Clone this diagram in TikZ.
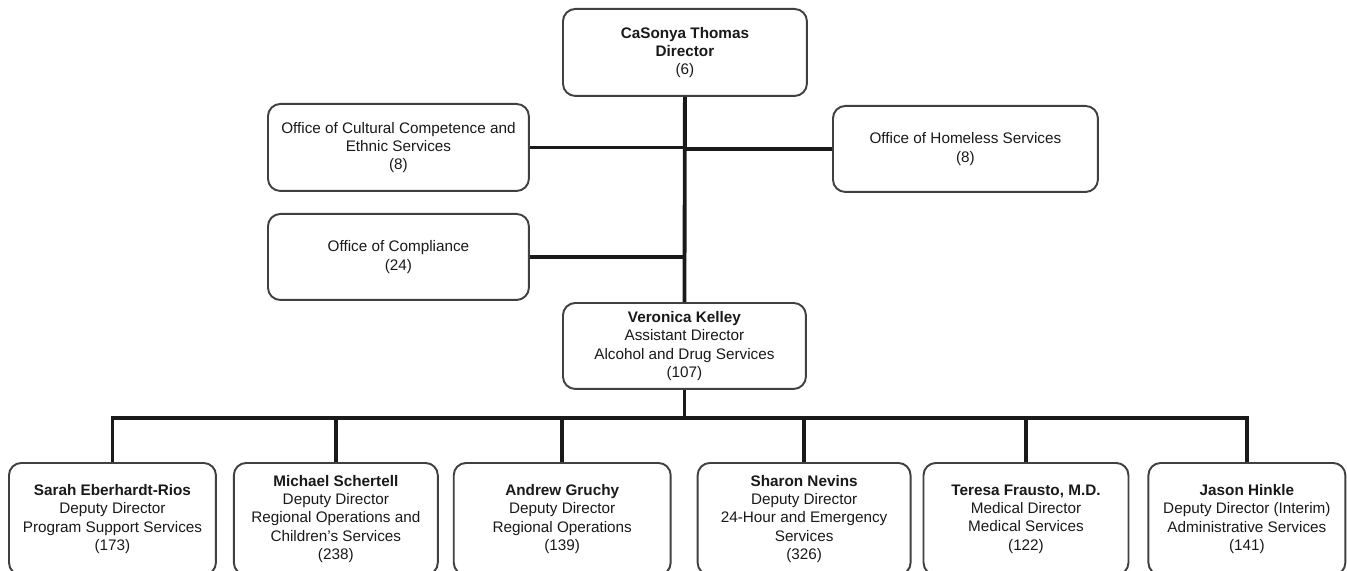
\documentclass[tikz,border=0pt]{standalone}
\usepackage{fontspec}
\setmainfont{Liberation Sans}
\usetikzlibrary{positioning,calc}
\definecolor{boxgrey}{RGB}{64,64,64}
\definecolor{linedark}{RGB}{26,26,26}

\begin{document}
\begin{tikzpicture}[
    x=0.02cm, y=-0.02cm,
    unit/.style={rectangle, draw=boxgrey, line width=1.1pt, rounded corners=7pt,
        align=center, anchor=north west, inner sep=2pt, text=black!90,
        font=\fontsize{8.7}{10.4}\selectfont},
    lower/.style={unit, minimum height=2.24cm},
    link/.style={draw=linedark, line width=2.2pt}
]
\useasboundingbox (0,0) rectangle (1347,571);

\node[unit, minimum width=4.88cm, minimum height=1.74cm] (dir) at (562,8)
    {\textbf{CaSonya Thomas}\\\textbf{Director}\\(6)};
\node[unit, minimum width=5.22cm, minimum height=1.74cm] (cult) at (267,103)
    {Office of Cultural Competence and\\Ethnic Services\\(8)};
\node[unit, minimum width=5.3cm, minimum height=1.72cm] (home) at (832,105)
    {Office of Homeless Services\\(8)};
\node[unit, minimum width=5.22cm, minimum height=1.72cm] (comp) at (267,213)
    {Office of Compliance\\(24)};
\node[unit, minimum width=4.86cm, minimum height=1.72cm] (ver) at (562,302)
    {\textbf{Veronica Kelley}\\Assistant Director\\Alcohol and Drug Services\\(107)};

\node[lower, minimum width=4.14cm] (sarah) at (8,462)
    {\textbf{Sarah Eberhardt-Rios}\\Deputy Director\\Program Support Services\\(173)};
\node[lower, minimum width=4.08cm, right=0.32cm of sarah] (michael)
    {\textbf{Michael Schertell}\\Deputy Director\\Regional Operations and\\Children’s Services\\(238)};
\node[lower, minimum width=4.34cm, right=0.28cm of michael] (andrew)
    {\textbf{Andrew Gruchy}\\Deputy Director\\Regional Operations\\(139)};
\node[lower, minimum width=4.26cm, right=0.5cm of andrew] (sharon)
    {\textbf{Sharon Nevins}\\Deputy Director\\24-Hour and Emergency\\Services\\(326)};
\node[lower, minimum width=4.1cm, right=0.22cm of sharon] (teresa)
    {\textbf{Teresa Frausto, M.D.}\\Medical Director\\Medical Services\\(122)};
\node[lower, minimum width=3.94cm, right=0.36cm of teresa] (jason)
    {\textbf{Jason Hinkle}\\Deputy Director (Interim)\\Administrative Services\\(141)};

\coordinate (bus) at (682,418);

% trunk and offices
\draw[link] (dir.south) -- (ver.north);
\draw[link] (cult.east) -- (cult.east -| dir.south);
\draw[link] (home.west) -- (home.west -| dir.south);
\draw[link] (comp.east) -- (comp.east -| dir.south);

% deputies
\draw[link] (ver.south) -- (ver.south |- bus);
\draw[link] (sarah.north) -- (sarah.north |- bus) -- (jason.north |- bus) -- (jason.north);
\foreach \n in {michael,andrew,sharon,teresa}
    \draw[link] (\n.north) -- (\n.north |- bus);
\end{tikzpicture}
\end{document}
